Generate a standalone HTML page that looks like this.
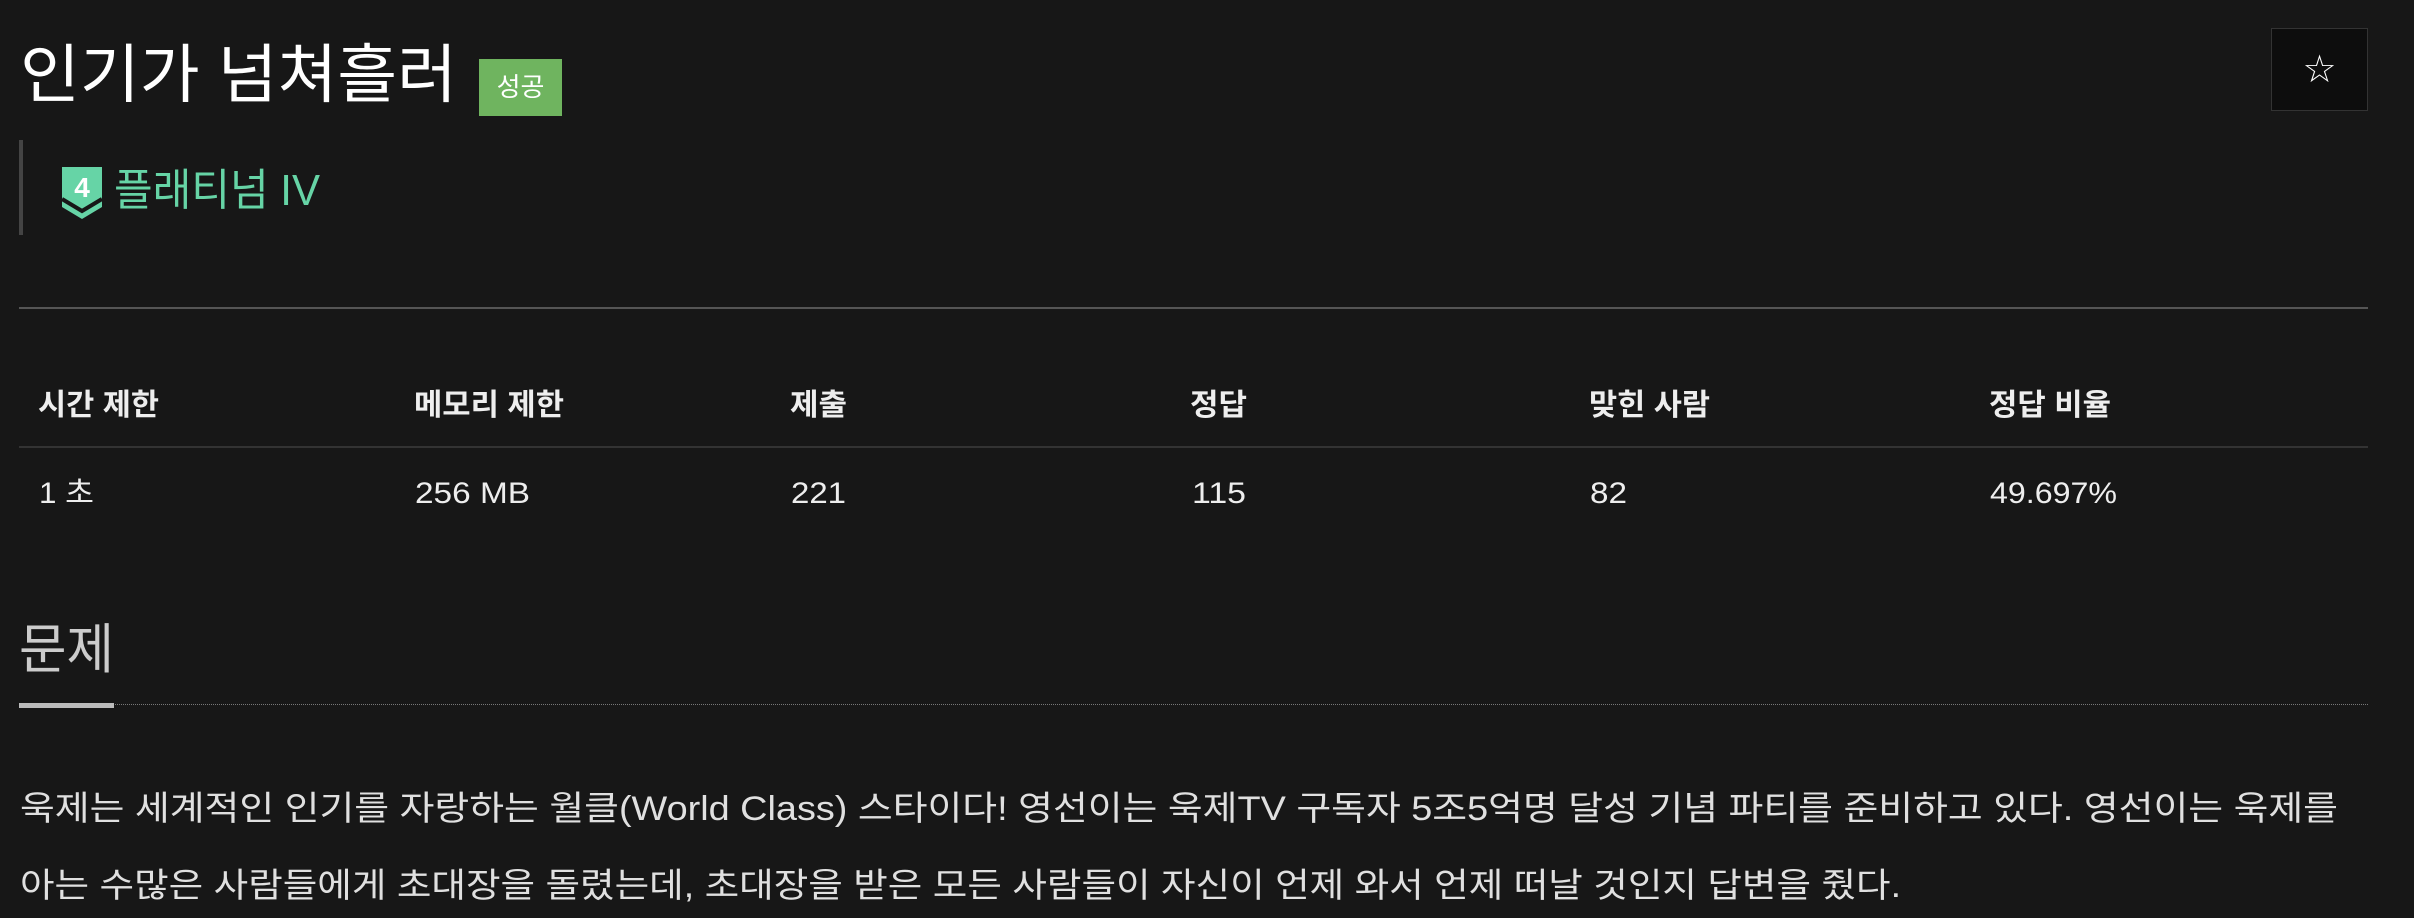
<!DOCTYPE html>
<html><head><meta charset="utf-8">
<style>
html,body{margin:0;padding:0;background:#171717;width:2414px;height:918px;overflow:hidden;}
body{position:relative;font-family:"Liberation Sans","Noto Sans CJK KR",sans-serif;color:#fff;}
.a{position:absolute;white-space:nowrap;line-height:1;transform-origin:0 0;}
.fit{display:inline-block;}
</style></head><body>
<div class="a fit" data-w="437" style="left:20px;top:43px;font-size:64px;color:#fff;">인기가 넘쳐흘러</div>
<div class="a" style="left:479px;top:59px;width:83px;height:57px;background:#6fb45f;"></div>
<div class="a" style="left:479px;top:59px;width:83px;height:57px;line-height:57px;text-align:center;font-size:26px;color:#fff;">성공</div>
<div class="a" style="left:2271px;top:28px;width:95px;height:81px;border:1px solid #333;background:#0d0d0d;text-align:center;line-height:81px;font-size:38px;color:#fff;font-family:'DejaVu Sans',sans-serif;">☆</div>
<div class="a" style="left:19px;top:140px;width:4px;height:95px;background:#444;"></div>
<svg class="a" style="left:62px;top:167px" width="40" height="52" viewBox="0 0 40 52">
<path d="M0 0H40V40L20 52L0 40Z" fill="#66d4a6"/>
<path d="M0 32L20 44L40 32" fill="none" stroke="#171717" stroke-width="4"/>
<text x="20" y="30" text-anchor="middle" font-size="28" font-weight="bold" fill="#fff" font-family="Liberation Sans">4</text>
</svg>
<div class="a fit" data-w="206" style="left:114px;top:169px;font-size:44px;color:#66d4a6;">플래티넘 IV</div>
<div class="a" style="left:19px;top:307px;width:2349px;height:2px;background:#555;"></div>

<div class="a fit" data-w="121" style="left:38px;top:391px;font-size:30px;font-weight:bold;color:#eee;">시간 제한</div>
<div class="a fit" data-w="150" style="left:414px;top:391px;font-size:30px;font-weight:bold;color:#eee;">메모리 제한</div>
<div class="a fit" data-w="57" style="left:790px;top:391px;font-size:30px;font-weight:bold;color:#eee;">제출</div>
<div class="a fit" data-w="57" style="left:1190px;top:391px;font-size:30px;font-weight:bold;color:#eee;">정답</div>
<div class="a fit" data-w="121" style="left:1589px;top:391px;font-size:30px;font-weight:bold;color:#eee;">맞힌 사람</div>
<div class="a fit" data-w="122" style="left:1989px;top:391px;font-size:30px;font-weight:bold;color:#eee;">정답 비율</div>
<div class="a" style="left:19px;top:446px;width:2349px;height:2px;background:#333;"></div>
<div class="a fit" data-w="55" style="left:39px;top:479px;font-size:30px;color:#eee;">1 초</div>
<div class="a fit" data-w="115" style="left:415px;top:479px;font-size:30px;color:#eee;">256 MB</div>
<div class="a fit" data-w="55" style="left:791px;top:479px;font-size:30px;color:#eee;">221</div>
<div class="a fit" data-w="54" style="left:1192px;top:479px;font-size:30px;color:#eee;">115</div>
<div class="a fit" data-w="37" style="left:1590px;top:479px;font-size:30px;color:#eee;">82</div>
<div class="a fit" data-w="127" style="left:1990px;top:479px;font-size:30px;color:#eee;">49.697%</div>

<div class="a fit" data-w="95" style="left:19px;top:623px;font-size:54px;color:#ccc;">문제</div>
<div class="a" style="left:19px;top:704px;width:2349px;height:0;border-top:1px dotted #777;"></div>
<div class="a" style="left:19px;top:703px;width:95px;height:5px;background:#bbb;"></div>

<div class="a fit" data-w="2318" style="left:20px;top:792px;font-size:34px;color:#e0e0e0;">욱제는 세계적인 인기를 자랑하는 월클(World Class) 스타이다! 영선이는 욱제TV 구독자 5조5억명 달성 기념 파티를 준비하고 있다. 영선이는 욱제를</div>
<div class="a fit" data-w="1881" style="left:20px;top:869px;font-size:34px;color:#e0e0e0;">아는 수많은 사람들에게 초대장을 돌렸는데, 초대장을 받은 모든 사람들이 자신이 언제 와서 언제 떠날 것인지 답변을 줬다.</div>
<script>
document.querySelectorAll('.fit').forEach(function(el){
  var w=parseFloat(el.getAttribute('data-w'));
  var r=el.getBoundingClientRect().width;
  if(r>0){el.style.transform='scaleX('+(w/r)+')';}
});
</script>
</body></html>
